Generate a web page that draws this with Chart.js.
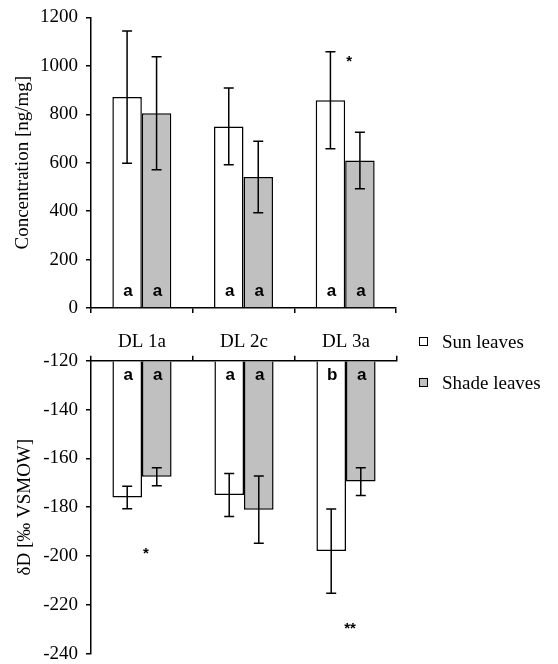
<!DOCTYPE html>
<html>
<head>
<meta charset="utf-8">
<script src="https://cdn.jsdelivr.net/npm/chart.js@4.4.1/dist/chart.umd.min.js"></script>
<style>
	body { margin: 0; background: #fff; overflow: hidden; }
	#wrap { position: relative; width: 558px; height: 664px; overflow: hidden; }
	canvas { position: absolute; left: 0; }
	#conc { top: -2px; }
	#delta { top: 320px; }
	#legend { position: absolute; left: 419px; top: 331px; font: 19px "Liberation Serif", serif; color: #000; }
	#legend div { position: relative; height: 41px; line-height: 22px; padding-left: 23px; white-space: nowrap; }
	#legend span { position: absolute; left: 0; top: 6px; width: 7px; height: 7px; border: 1.5px solid #000; }
</style>
</head>
<body>
<div id="wrap">
	<canvas id="conc" width="558" height="332"></canvas>
	<canvas id="delta" width="558" height="353"></canvas>
	<div id="legend"></div>
</div>
<script>
'use strict'

// sites
var categories = ['DL 1a', 'DL 2c', 'DL 3a'];
var seriesNames = ['Sun leaves', 'Shade leaves'];
var seriesColors = ['#ffffff', '#c0c0c0'];

// concentration [ng/mg], mean and error
var concSun = [871, 750, 858];
var concSunErr = [273, 158, 200];
var concShade = [804, 541, 609];
var concShadeErr = [233, 148, 117];

// dD [‰ VSMOW], mean and error
var deltaSun = [-176, -175, -198];
var deltaSunErr = [4.6, 8.8, 17.3];
var deltaShade = [-167.5, -181, -169.5];
var deltaShadeErr = [3.7, 13.8, 5.7];

// axis ranges
var concTicks = [0, 1200, 200];
var deltaTicks = [-240, -120, 20];

// significance letters, [sun, shade] per site
var concLetters = [['a', 'a'], ['a', 'a'], ['a', 'a']];
var deltaLetters = [['a', 'a'], ['a', 'a'], ['b', 'a']];

// stars: [site index, text, value]
var concStars = [[2, '*', 1017]];
var deltaStars = [[0, '*', -199], [2, '**', -230]];

var serif = '"Liberation Serif", "Times New Roman", serif';
Chart.defaults.color = '#000';
Chart.defaults.font.family = serif;
Chart.defaults.font.size = 19;

// error bars + letters + stars
var marksPlugin = {
	id: 'marks',
	afterDatasetsDraw: function (chart) {
		var ctx = chart.ctx,
			y = chart.scales.y,
			x = chart.scales.x,
			o = chart.options.plugins.marks;
		ctx.save();
		chart.data.datasets.forEach(function (ds, i) {
			var meta = chart.getDatasetMeta(i);
			meta.data.forEach(function (bar, j) {
				var v = ds.data[j], e = ds.errors[j],
					y1 = y.getPixelForValue(v + e),
					y2 = y.getPixelForValue(v - e);
				ctx.strokeStyle = '#000';
				ctx.lineWidth = 1.5;
				ctx.beginPath();
				ctx.moveTo(bar.x, y1); ctx.lineTo(bar.x, y2);
				ctx.moveTo(bar.x - 5, y1); ctx.lineTo(bar.x + 5, y1);
				ctx.moveTo(bar.x - 5, y2); ctx.lineTo(bar.x + 5, y2);
				ctx.stroke();

				ctx.fillStyle = '#000';
				ctx.font = 'bold 17px "Liberation Sans", Arial, sans-serif';
				ctx.textAlign = 'center';
				ctx.textBaseline = 'middle';
				ctx.fillText(o.letters[j][i], bar.x + 1, y.getPixelForValue(o.letterAt));
			});
		});
		ctx.font = 'bold 15px "Liberation Sans", Arial, sans-serif';
		o.stars.forEach(function (s) {
			ctx.fillText(s[1], x.getPixelForValue(s[0]) + 4, y.getPixelForValue(s[2]));
		});
		ctx.restore();
	}
};

function makeDatasets (sun, sunErr, shade, shadeErr, base) {
	return [sun, shade].map(function (vals, i) {
		var ds = {
			label: seriesNames[i],
			data: vals,
			errors: i ? shadeErr : sunErr,
			backgroundColor: seriesColors[i],
			borderColor: '#000',
			borderWidth: 1.5,
			barPercentage: 1,
			categoryPercentage: 0.58
		};
		if (base !== undefined) ds.base = base;
		return ds;
	});
}

function axisY (range, title, titlePad) {
	return {
		min: range[0],
		max: range[1],
		afterFit: function (scale) { scale.width = 91; },
		ticks: {
			stepSize: range[2],
			padding: 8,
			callback: function (v) { return String(v); } // no thousands separator
		},
		border: { color: '#000', width: 1.5 },
		grid: { drawOnChartArea: false, drawTicks: true, tickLength: 5, color: '#000', lineWidth: 1.5 },
		title: { display: true, text: title, padding: { top: titlePad, bottom: 0 } }
	};
}

var xGrid = { drawOnChartArea: false, drawTicks: true, tickLength: 5, color: '#000', lineWidth: 1.5 };

new Chart(document.getElementById('conc'), {
	type: 'bar',
	data: {
		labels: categories,
		datasets: makeDatasets(concSun, concSunErr, concShade, concShadeErr)
	},
	options: {
		responsive: false,
		animation: false,
		layout: { padding: { left: 0, right: 162, top: 15, bottom: 17 } },
		plugins: {
			legend: { display: false },
			tooltip: { enabled: false },
			marks: { letters: concLetters, letterAt: 70, stars: concStars }
		},
		scales: {
			x: {
				ticks: { display: false },
				border: { color: '#000', width: 1.5 },
				grid: xGrid
			},
			y: axisY(concTicks, 'Concentration [ng/mg]', 12)
		}
	},
	plugins: [marksPlugin]
});

new Chart(document.getElementById('delta'), {
	type: 'bar',
	data: {
		labels: categories,
		datasets: makeDatasets(deltaSun, deltaSunErr, deltaShade, deltaShadeErr, deltaTicks[1])
	},
	options: {
		responsive: false,
		animation: false,
		layout: { padding: { left: 0, right: 161, top: 9, bottom: 3 } },
		plugins: {
			legend: { display: false },
			tooltip: { enabled: false },
			marks: { letters: deltaLetters, letterAt: -126, stars: deltaStars }
		},
		scales: {
			x: {
				position: 'top',
				ticks: { padding: 2 },
				border: { color: '#000', width: 1.5 },
				grid: xGrid
			},
			y: axisY(deltaTicks, 'δD [‰ VSMOW]', 14)
		}
	},
	plugins: [marksPlugin]
});

// legend
var legend = document.getElementById('legend');
seriesNames.forEach(function (name, i) {
	var item = document.createElement('div');
	var box = document.createElement('span');
	box.style.background = seriesColors[i];
	item.appendChild(box);
	item.appendChild(document.createTextNode(name));
	legend.appendChild(item);
});
</script>
</body>
</html>
